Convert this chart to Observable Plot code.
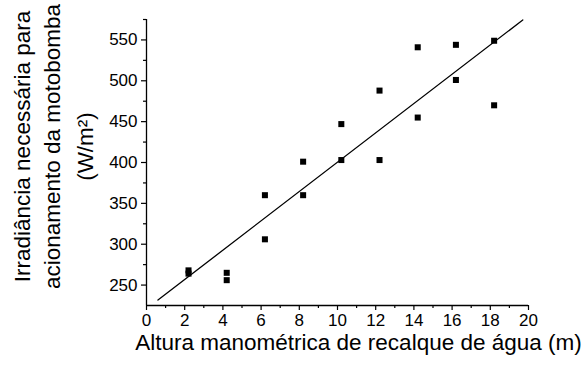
<!DOCTYPE html>
<html>
<head>
<meta charset="utf-8">
<script src="https://cdn.jsdelivr.net/npm/d3@7"></script>
<script src="https://cdn.jsdelivr.net/npm/@observablehq/plot@0.6"></script>
<style>
  html, body { margin: 0; padding: 0; background: #fff; }
  #chart svg { display: block; }
</style>
</head>
<body>
<div id="chart"></div>
<script>
// Data
const heights = [2.2, 2.2, 4.2, 4.2, 6.2, 6.2, 8.2, 8.2, 10.2, 10.2, 12.2, 12.2, 14.2, 14.2, 16.2, 16.2, 18.2, 18.2];
const irradiance = [268, 264, 265, 256, 360, 306, 401, 360, 447, 403, 488, 403, 541, 455, 544, 501, 549, 470];
// Fitted line endpoints as drawn in the reference
const fitX = [0.6, 19.7];
const fitY = [231.7, 574.4];
// Tick labels
const xMajorTicks = [0, 2, 4, 6, 8, 10, 12, 14, 16, 18, 20];
const xMinorTicks = [1, 3, 5, 7, 9, 11, 13, 15, 17, 19];
const yMajorTicks = [250, 300, 350, 400, 450, 500, 550];
const yMinorTicks = [275, 325, 375, 425, 475, 525, 575];
const xTitle = ["Altura manométrica de recalque de água (m)"];
const yTitle1 = ["Irradiância necessária para"];
const yTitle2 = ["acionamento da motobomba"];
const yTitle3 = ["(W/m²)"];

const points = heights.map((h, i) => ({h, v: irradiance[i]}));
const fit = fitX.map((x, i) => ({x, y: fitY[i]}));

const font = "'Liberation Sans', Arial, Helvetica, sans-serif";
const tickFont = 17;
const labelFont = 22.5;

const chart = Plot.plot({
  width: 585,
  height: 368,
  marginLeft: 146,
  marginRight: 57,
  marginTop: 19,
  marginBottom: 63,
  style: {fontFamily: font, color: "#000", background: "#fff", overflow: "visible"},
  x: {domain: [0, 20]},
  y: {domain: [225, 575]},
  marks: [
    Plot.axisX({ticks: xMajorTicks, tickSize: 5, tickPadding: 3, fontSize: tickFont, label: null, strokeWidth: 1.2}),
    Plot.axisX({ticks: xMinorTicks, tickSize: 3, text: null, label: null, strokeWidth: 1.2}),
    Plot.axisY({ticks: yMajorTicks, tickSize: 5, tickPadding: 4, fontSize: tickFont, label: null, strokeWidth: 1.2}),
    Plot.axisY({ticks: yMinorTicks, tickSize: 3, text: null, label: null, strokeWidth: 1.2}),
    Plot.ruleX([0], {stroke: "#000", strokeWidth: 1.3}),
    Plot.ruleY([225], {stroke: "#000", strokeWidth: 1.3}),
    Plot.line(fit, {x: "x", y: "y", stroke: "#000", strokeWidth: 1.3}),
    Plot.dot(points, {x: "h", y: "v", symbol: "square", r: 3.4, fill: "#000", stroke: "none"}),
    Plot.text(xTitle, {text: d => d, frameAnchor: "bottom", textAnchor: "middle", dx: 21, dy: 44, fontSize: labelFont, fill: "#000"}),
    Plot.text(yTitle1, {text: d => d, frameAnchor: "left", textAnchor: "middle", rotate: -90, dx: -124, dy: -16, fontSize: labelFont, fill: "#000"}),
    Plot.text(yTitle2, {text: d => d, frameAnchor: "left", textAnchor: "middle", rotate: -90, dx: -94, dy: -16, fontSize: labelFont, fill: "#000"}),
    Plot.text(yTitle3, {text: d => d, frameAnchor: "left", textAnchor: "middle", rotate: -90, dx: -61, dy: -16, fontSize: labelFont, fill: "#000"})
  ]
});
document.getElementById("chart").appendChild(chart);
</script>
</body>
</html>
